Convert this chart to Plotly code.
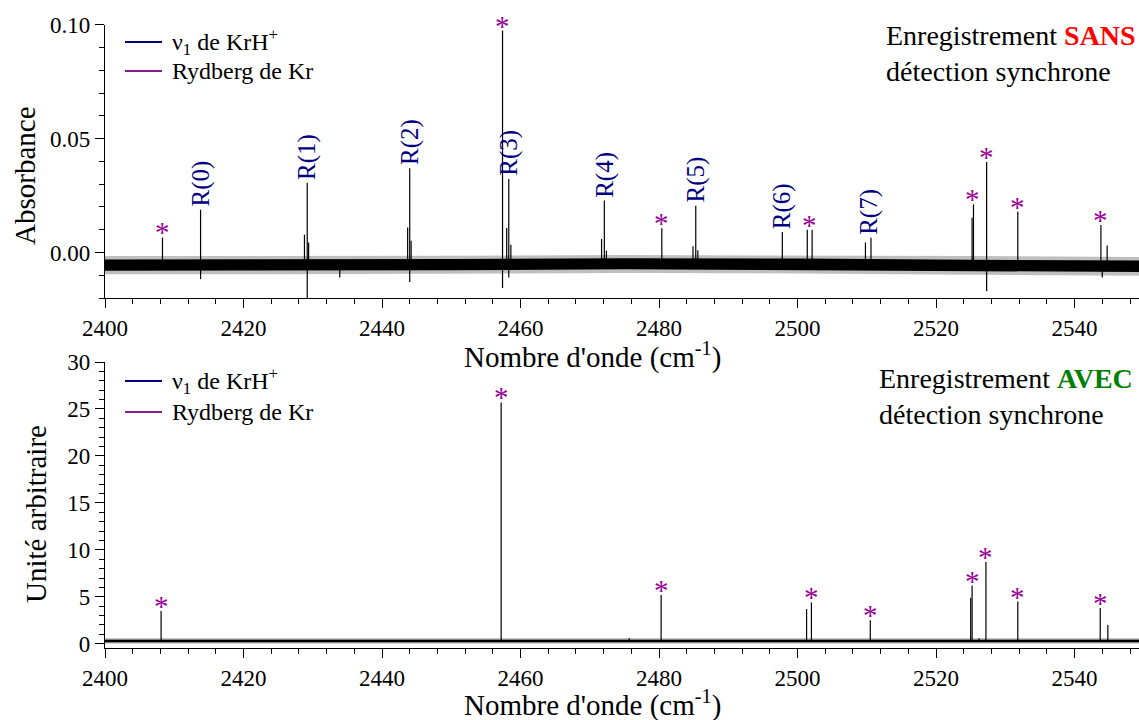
import plotly.graph_objects as go

# ---------------- data ----------------
# Upper panel: absorbance, recorded WITHOUT synchronous detection
top_peak_x = [2408.3, 2413.8, 2428.8, 2429.2, 2429.4, 2443.7, 2444.0, 2444.2,
              2457.4, 2458.0, 2458.3, 2458.6, 2471.7, 2472.1, 2472.4, 2480.4,
              2484.9, 2485.3, 2485.6, 2497.8, 2501.4, 2502.1, 2509.8, 2510.6,
              2525.2, 2525.4, 2527.3, 2531.8, 2543.8, 2544.7]
top_peak_y = [0.0066, 0.0187, 0.0078, 0.0306, 0.0044, 0.0110, 0.0370, 0.0051,
              0.0974, 0.0107, 0.0323, 0.0034, 0.0059, 0.0228, 0.0008, 0.0106,
              0.0027, 0.0205, 0.0010, 0.0090, 0.0100, 0.0100, 0.0044, 0.0065,
              0.0152, 0.0212, 0.0397, 0.0179, 0.0120, 0.0030]
top_dip_x = [2413.8, 2429.2, 2433.9, 2444.0, 2457.4, 2458.3, 2527.3, 2544.0]
top_dip_y = [-0.0117, -0.0200, -0.0110, -0.0130, -0.0156, -0.0110, -0.0170, -0.0110]
top_base = -0.0056
top_noise_x = [2400, 2425, 2450, 2475, 2500, 2525, 2550]
top_noise_outer_hi = [-0.0016, -0.0016, -0.0014, -0.0011, -0.0012, -0.0016, -0.0020]
top_noise_outer_lo = [-0.0096, -0.0096, -0.0094, -0.0090, -0.0092, -0.0098, -0.0102]
top_noise_core_hi = [-0.0031, -0.0031, -0.0029, -0.0026, -0.0027, -0.0032, -0.0036]
top_noise_core_lo = [-0.0080, -0.0080, -0.0078, -0.0074, -0.0076, -0.0082, -0.0086]

# R-branch labels of nu1 KrH+ (upper panel)
r_label_x = [2413.8, 2429.2, 2444.0, 2458.3, 2472.1, 2485.3, 2497.8, 2510.2]
r_label_y = [0.0187, 0.0306, 0.0370, 0.0323, 0.0228, 0.0205, 0.0090, 0.0065]
r_label_text = ["R(0)", "R(1)", "R(2)", "R(3)", "R(4)", "R(5)", "R(6)", "R(7)"]
# Kr Rydberg lines marked with * (upper panel)
top_star_x = [2408.3, 2457.4, 2480.4, 2501.75, 2525.3, 2527.3, 2531.8, 2543.8]
top_star_y = [0.0066, 0.0974, 0.0106, 0.0100, 0.0212, 0.0397, 0.0179, 0.0120]

# Lower panel: arbitrary units, recorded WITH synchronous detection
bot_peak_x = [2408.1, 2457.2, 2475.7, 2480.3, 2488.5, 2501.3, 2502.0, 2504.6,
              2510.5, 2525.0, 2525.2, 2526.2, 2527.2, 2531.8, 2543.7, 2544.8]
bot_peak_y = [3.5, 25.7, 0.6, 5.2, 0.3, 3.7, 4.4, 0.3,
              2.5, 4.9, 6.2, 0.6, 8.7, 4.5, 3.8, 2.0]
bot_base = 0.3
bot_noise_x = [2400, 2475, 2550]
bot_noise_outer_hi = [0.58, 0.58, 0.58]
bot_noise_outer_lo = [0.04, 0.04, 0.04]
bot_noise_core_hi = [0.44, 0.44, 0.44]
bot_noise_core_lo = [0.17, 0.17, 0.17]
bot_star_x = [2408.1, 2457.2, 2480.3, 2502.0, 2510.5, 2525.2, 2527.2, 2531.8, 2543.7]
bot_star_y = [3.5, 25.7, 5.2, 4.4, 2.5, 6.2, 8.7, 4.5, 3.8]

legend_names = ["ν<sub>1</sub> de KrH<sup>+</sup>", "Rydberg de Kr"]

x_range = [2400, 2549.3]
top_y_range = [-0.02, 0.10]
bot_y_range = [-0.45, 30]

# ---------------- styling ----------------
W, H = 1139, 720
FONT = "Liberation Serif, Times New Roman, serif"
NAVY = "#000080"
PURPLE = "#990099"
LEG_COLORS = ["#000080", "#8b1a8b"]


def px_x(p):
    return p / W


def px_y(p):
    return 1 - p / H


def sticks(xs, ys, base):
    sx, sy = [], []
    for x, y in zip(xs, ys):
        sx += [x, x, None]
        sy += [base, y, None]
    return sx, sy


fig = go.Figure()


def add_band(xs, hi, lo, color, xa, ya):
    fig.add_trace(go.Scatter(
        x=list(xs) + list(xs)[::-1], y=list(hi) + list(lo)[::-1],
        fill="toself", fillcolor=color, line=dict(width=0),
        mode="lines", hoverinfo="skip", showlegend=False, xaxis=xa, yaxis=ya))


# upper panel spectrum
add_band(top_noise_x, top_noise_outer_hi, top_noise_outer_lo, "rgba(0,0,0,0.25)", "x", "y")
add_band(top_noise_x, top_noise_core_hi, top_noise_core_lo, "black", "x", "y")
sx, sy = sticks(top_peak_x, top_peak_y, top_base)
fig.add_trace(go.Scatter(x=sx, y=sy, mode="lines", line=dict(color="black", width=1.2),
                         showlegend=False, hoverinfo="skip", xaxis="x", yaxis="y"))
sx, sy = sticks(top_dip_x, top_dip_y, top_base)
fig.add_trace(go.Scatter(x=sx, y=sy, mode="lines", line=dict(color="black", width=1.2),
                         showlegend=False, hoverinfo="skip", xaxis="x", yaxis="y"))

# lower panel spectrum
add_band(bot_noise_x, bot_noise_outer_hi, bot_noise_outer_lo, "rgba(0,0,0,0.3)", "x2", "y2")
add_band(bot_noise_x, bot_noise_core_hi, bot_noise_core_lo, "black", "x2", "y2")
sx, sy = sticks(bot_peak_x, bot_peak_y, bot_base)
fig.add_trace(go.Scatter(x=sx, y=sy, mode="lines", line=dict(color="black", width=1.2),
                         showlegend=False, hoverinfo="skip", xaxis="x2", yaxis="y2"))

annotations = []
shapes = []

# hand-placed legends (one per panel)
for row_y in ([42, 71], [381, 412]):
    for name, color, yy in zip(legend_names, LEG_COLORS, row_y):
        shapes.append(dict(type="line", xref="paper", yref="paper",
                           x0=px_x(125), x1=px_x(162), y0=px_y(yy), y1=px_y(yy),
                           line=dict(color=color, width=2)))
        annotations.append(dict(x=px_x(170), y=px_y(yy), xref="paper", yref="paper",
                                text=name, showarrow=False, xanchor="left", yanchor="middle",
                                font=dict(family=FONT, size=24, color="black")))

for x, y, t in zip(r_label_x, r_label_y, r_label_text):
    annotations.append(dict(x=x, y=y, xref="x", yref="y", text=t, showarrow=False,
                            textangle=-90, xanchor="center", yanchor="bottom", yshift=1,
                            font=dict(family=FONT, size=25, color=NAVY)))
for x, y in zip(top_star_x, top_star_y):
    annotations.append(dict(x=x, y=y, xref="x", yref="y", text="*", showarrow=False,
                            xanchor="center", yanchor="middle", yshift=5,
                            font=dict(family=FONT, size=29, color=PURPLE)))
for x, y in zip(bot_star_x, bot_star_y):
    annotations.append(dict(x=x, y=y, xref="x2", yref="y2", text="*", showarrow=False,
                            xanchor="center", yanchor="middle", yshift=5,
                            font=dict(family=FONT, size=29, color=PURPLE)))

# axis titles and panel captions
annotations += [
    dict(x=px_x(25), y=px_y(176), xref="paper", yref="paper", text="Absorbance",
         textangle=-90, showarrow=False, xanchor="center", yanchor="middle",
         font=dict(family=FONT, size=29, color="black")),
    dict(x=px_x(36), y=px_y(514), xref="paper", yref="paper", text="Unité arbitraire",
         textangle=-90, showarrow=False, xanchor="center", yanchor="middle",
         font=dict(family=FONT, size=29, color="black")),
    dict(x=px_x(592), y=px_y(355), xref="paper", yref="paper",
         text="Nombre d'onde (cm<sup>-1</sup>)", showarrow=False,
         xanchor="center", yanchor="middle", font=dict(family=FONT, size=29, color="black")),
    dict(x=px_x(592), y=px_y(703), xref="paper", yref="paper",
         text="Nombre d'onde (cm<sup>-1</sup>)", showarrow=False,
         xanchor="center", yanchor="middle", font=dict(family=FONT, size=29, color="black")),
    dict(x=px_x(884), y=px_y(54), xref="paper", yref="paper", align="left",
         text="Enregistrement <b><span style='color:#ff0000'>SANS</span></b><br>détection synchrone",
         showarrow=False, xanchor="left", yanchor="middle",
         font=dict(family=FONT, size=28, color="black")),
    dict(x=px_x(877), y=px_y(396), xref="paper", yref="paper", align="left",
         text="Enregistrement <b><span style='color:#008000'>AVEC</span></b><br>détection synchrone",
         showarrow=False, xanchor="left", yanchor="middle",
         font=dict(family=FONT, size=28, color="black")),
]

common_x = dict(range=x_range, domain=[px_x(105), 1], showline=True, linecolor="black",
                linewidth=1.3, ticks="outside", ticklen=9, tickwidth=1.3, tickcolor="black",
                tick0=2400, dtick=20, showgrid=False, zeroline=False, automargin=False,
                tickfont=dict(family=FONT, size=23, color="black"),
                minor=dict(ticks="outside", dtick=4, ticklen=5, tickwidth=1.3, tickcolor="black",
                           showgrid=False))
common_y = dict(showline=True, linecolor="black", linewidth=1.3, ticks="outside", ticklen=9,
                tickwidth=1.3, tickcolor="black", showgrid=False, zeroline=False, automargin=False,
                tickfont=dict(family=FONT, size=23, color="black"))

fig.update_layout(
    width=W, height=H,
    margin=dict(l=0, r=0, t=0, b=0),
    paper_bgcolor="white", plot_bgcolor="white",
    font=dict(family=FONT, color="black"),
    xaxis=dict(anchor="y", **common_x),
    yaxis=dict(anchor="x", domain=[px_y(298), px_y(24.7)], range=top_y_range,
               tick0=0, dtick=0.05, tickformat=".2f",
               minor=dict(ticks="outside", dtick=0.01, ticklen=5, tickwidth=1.3,
                          tickcolor="black", showgrid=False), **common_y),
    xaxis2=dict(anchor="y2", **common_x),
    yaxis2=dict(anchor="x2", domain=[px_y(648), px_y(362)], range=bot_y_range,
                tick0=0, dtick=5,
                minor=dict(ticks="outside", dtick=1, ticklen=5, tickwidth=1.3,
                           tickcolor="black", showgrid=False), **common_y),
    annotations=annotations,
    shapes=shapes,
    showlegend=False,
)

fig.write_html("out.html", config={"displayModeBar": False},
               post_script="document.body.style.margin='0px';document.body.style.padding='0px';")
